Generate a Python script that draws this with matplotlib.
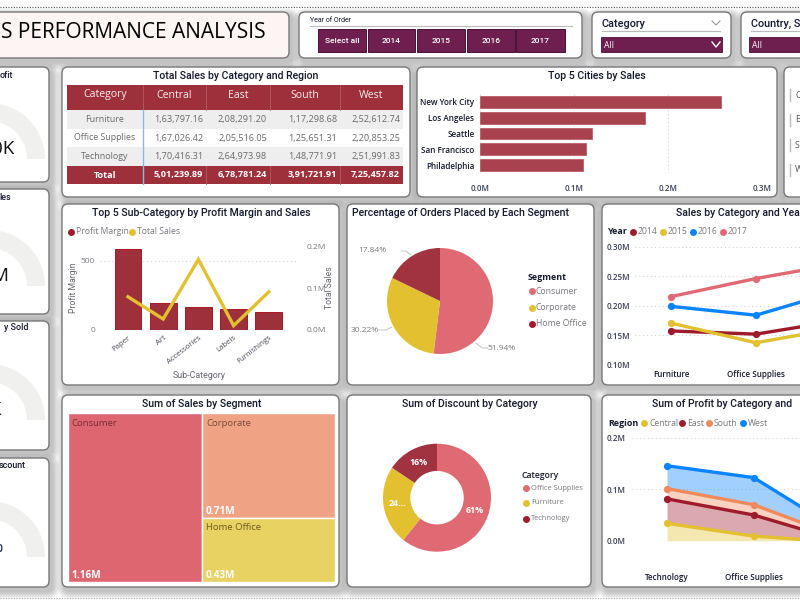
import numpy as np
import matplotlib
matplotlib.use('Agg')
import matplotlib.pyplot as plt
from matplotlib.patches import FancyBboxPatch, Rectangle, Wedge
from matplotlib.transforms import ScaledTranslation

# Data
table_regions = ['Central', 'East', 'South', 'West']
table_categories = ['Furniture', 'Office Supplies', 'Technology']
table_rows = [
    ['1,63,797.16', '2,08,291.20', '1,17,298.68', '2,52,612.74'],
    ['1,67,026.42', '2,05,516.05', '1,25,651.31', '2,20,853.25'],
    ['1,70,416.31', '2,64,973.98', '1,48,771.91', '2,51,991.83'],
]
table_total = ['5,01,239.89', '6,78,781.24', '3,91,721.91', '7,25,457.82']

cities = ['New York City', 'Los Angeles', 'Seattle', 'San Francisco', 'Philadelphia']
city_sales = [0.2564, 0.1759, 0.1195, 0.1127, 0.1091]

sub_categories = ['Paper', 'Art', 'Accessories', 'Labels', 'Furnishings']
profit_margin = [584, 197, 168, 154, 128]
sub_sales = [0.080, 0.0265, 0.170, 0.0105, 0.092]

segments = ['Consumer', 'Corporate', 'Home Office']
segment_orders = [51.94, 30.22, 17.84]
segment_sales = [1.16, 0.71, 0.43]

discount_categories = ['Office Supplies', 'Furniture', 'Technology']
discount_sums = [947.8, 368.9, 244.4]
discount_labels = ['61%', '24...', '16%']

line_categories = ['Furniture', 'Office Supplies']
sales_2014 = [0.1572, 0.1518, 0.1753]
sales_2015 = [0.1705, 0.1372, 0.1628]
sales_2016 = [0.1989, 0.1839, 0.2264]
sales_2017 = [0.2154, 0.2461, 0.2717]

area_categories = ['Technology', 'Office Supplies']
profit_central = [0.0337, 0.0089, -0.0029]
profit_east = [0.0475, 0.0410, 0.0030]
profit_south = [0.0200, 0.0200, 0.0068]
profit_west = [0.0443, 0.0526, 0.0115]

years = ['Select all', '2014', '2015', '2016', '2017']

# Colours
RED = '#9e303c'
PINK = '#e06a73'
YELLOW = '#e3c030'
DARKRED = '#a0333f'
PLUM = '#6e1f4f'
DOTRED = '#9e1b2b'
BLUE = '#0a84ff'
ORANGE = '#f08a5d'
TXT = '#14182c'
GREY = '#77777f'
TITLE_FONT = 'Roboto'
BODY_FONT = 'Open Sans'

W, H = 800, 600
fig = plt.figure(figsize=(8, 6), dpi=100, facecolor='white')


def px_axes(x0, y0, x1, y1, zorder=3):
    # axes placed with picture pixels, y going down
    ax = fig.add_axes([x0 / W, 1 - y1 / H, (x1 - x0) / W, (y1 - y0) / H], zorder=zorder)
    ax.patch.set_alpha(0)
    return ax


back = px_axes(0, 0, W, H, zorder=0)
back.set_xlim(0, W)
back.set_ylim(H, 0)
back.axis('off')
front = px_axes(0, 0, W, H, zorder=10)
front.set_xlim(0, W)
front.set_ylim(H, 0)
front.axis('off')


def card(x0, y0, x1, y1, fill='white'):
    for i in range(7, 0, -1):
        back.add_patch(FancyBboxPatch((x0 + 3, y0 + 4), x1 - x0, y1 - y0,
                                      boxstyle=f'round,pad={i * 1.1},rounding_size={5 + i}',
                                      fc='#707070', ec='none', alpha=0.07, clip_on=True))
    back.add_patch(FancyBboxPatch((x0, y0), x1 - x0, y1 - y0,
                                  boxstyle='round,pad=0,rounding_size=6',
                                  fc=fill, ec='#77777a', lw=1.0, zorder=2))


def title(x, y, s, ha='center'):
    front.text(x, y, s, ha=ha, va='center', fontsize=7.6, color=TXT,
               family=TITLE_FONT, fontweight='medium')


def label(x, y, s, size=6.2, color=GREY, ha='left', weight='normal', font=BODY_FONT, **kw):
    front.text(x, y, s, ha=ha, va='center', fontsize=size, color=color,
               family=font, fontweight=weight, **kw)


def dot(x, y, color, size=25):
    front.scatter([x], [y], s=size, color=color, linewidths=0, zorder=5)


def dotted_grid(ax, axis='y'):
    ax.grid(True, axis=axis, linestyle=(0, (1, 3)), color='#cfcfcf', lw=0.7)
    ax.set_axisbelow(True)
    for s in ax.spines.values():
        s.set_visible(False)
    ax.tick_params(length=0)


# Background dotted rules
back.plot([0, W], [7, 7], color='#555555', lw=0.8, ls=(0, (1, 1.4)))
back.plot([0, W], [598, 598], color='#aaaaaa', lw=0.8, ls=(0, (1, 1.4)))

# Cards
card(-20, 12, 289, 58, fill='#fdf5f3')
card(299, 12, 582, 58)
card(592, 12, 731, 58)
card(741, 12, 830, 58)
for y0, y1 in [(67, 182), (189, 314), (321, 450), (458, 587)]:
    card(-20, y0, 49, y1)
card(62, 67, 410, 197)
card(417, 67, 777, 197)
card(784, 67, 830, 197)
card(62, 204, 339, 385)
card(347, 204, 594, 385)
card(602, 204, 830, 385)
card(62, 395, 339, 587)
card(347, 395, 591, 587)
card(602, 395, 830, 587)

# Header, the picture starts inside the word SALES
front.text(266, 32, 'S PERFORMANCE ANALYSIS', ha='right', va='center', fontsize=15,
           color='black', family=BODY_FONT, fontweight=500)

# Year slicer
label(310, 21, 'Year of Order', size=5, color=TXT, font=TITLE_FONT)
front.plot([310, 572], [25.5, 25.5], color='#bbbbbb', lw=0.8)
btn_edges = [(318, 366), (368, 415), (417, 465), (467, 515), (516, 565)]
for (x0, x1), yr in zip(btn_edges, years):
    front.add_patch(Rectangle((x0, 29), x1 - x0, 23, fc=PLUM, ec='#4a1236', lw=0.7))
    label((x0 + x1) / 2, 41, yr, size=6, color='white', ha='center', font=TITLE_FONT, weight='medium')

# Dropdown slicers
for x, s, x0, x1 in [(602, 'Category', 601, 722), (751, 'Country, S', 749, 830)]:
    label(x, 24, s, size=7.8, color=TXT, font=TITLE_FONT, weight='medium')
    front.plot([x, x1 - 2], [31, 31], color='#bbbbbb', lw=0.8)
    front.add_patch(Rectangle((x0, 37), x1 - x0, 15, fc=PLUM, ec='#4a1236', lw=0.6))
    label(x0 + 3, 45, 'All', size=6.2, color='white')
front.plot([712, 716, 720], [42, 47, 42], color='white', lw=1)
front.plot([712, 716, 720], [21, 25, 21], color='#999999', lw=0.8)

# Gauges on the left, only their right end shows
gauge_titles = ['ofit', 'les', 'y Sold', 'scount']
gauge_values = ['0K', 'M', 'K', '%']
gauge_colors = ['#111111', '#111111', '#12264f', '#12264f']
gauge_base = [159, 286, 420, 557]
gauge_title_y = [75, 197, 328, 466]
gauge_title_end = [13, 11, 28, 26]
gauge_text_end = [14, 8, 1, 2]
for i in range(4):
    back.add_patch(Wedge((-11, gauge_base[i]), 56, 180, 360, width=18, fc='#f0f0ef', ec='none', zorder=3))
    label(gauge_title_end[i], gauge_title_y[i], gauge_titles[i], size=6.4, color=TXT,
          ha='right', font=TITLE_FONT, weight='medium')
    label(gauge_text_end[i], gauge_base[i] - 10, gauge_values[i], size=13.5, color=gauge_colors[i], ha='right')

# Table
title(236, 76, 'Total Sales by Category and Region')
col_edges = [67, 143, 206, 270, 340, 403]
row_edges = [110, 129, 147, 166]
front.add_patch(Rectangle((67, 85), 336, 25, fc=RED, ec='none'))
front.add_patch(Rectangle((67, 166), 336, 18, fc=RED, ec='none'))
for i in [0, 2]:
    front.add_patch(Rectangle((67, row_edges[i]), 336, row_edges[i + 1] - row_edges[i], fc='#eeeeee', ec='none', zorder=0.5))
for x in col_edges[1:-1]:
    front.plot([x, x], [85, 110], color='#b55a64', lw=0.6)
    front.plot([x, x], [166, 184], color='#b55a64', lw=0.6)
front.plot([143, 143], [110, 184], color='#8fb6e6', lw=1.0)
label(105, 95, 'Category', size=7.6, color='#f9eeee', ha='center', weight=500)
for j, reg in enumerate(table_regions):
    label((col_edges[j + 1] + col_edges[j + 2]) / 2, 95, reg, size=7.6, color='#f9eeee', ha='center', weight=500)
for i, cat in enumerate(table_categories):
    yc = (row_edges[i] + row_edges[i + 1]) / 2
    label(105, yc, cat, size=6.4, color='#6a6a6a', ha='center')
    for j in range(4):
        label(col_edges[j + 2] - 3, yc, table_rows[i][j], size=6.6, color='#6a6a6a', ha='right')
label(105, 175, 'Total', size=6.6, color='white', ha='center', weight='bold')
for j in range(4):
    label(col_edges[j + 2] - 3, 175, table_total[j], size=6.6, color='white', ha='right', weight='bold')

# Top cities
title(597, 76, 'Top 5 Cities by Sales')
ax = px_axes(480, 94, 762, 173)
ax.barh(range(5), city_sales, height=0.75, color='#a8424f', edgecolor='#b8505c', lw=0.5)
ax.set_xlim(0, 0.3)
ax.set_ylim(4.5, -0.5)
ax.set_yticks(range(5))
ax.set_yticklabels(cities, fontsize=5.9, color=TXT, family=BODY_FONT, fontweight=600)
ax.set_xticks([0, 0.1, 0.2, 0.3])
ax.set_xticklabels(['0.0M', '0.1M', '0.2M', '0.3M'], fontsize=5.8, color='#3a3f55', family=BODY_FONT, fontweight=600)
dotted_grid(ax, 'x')
ax.tick_params(axis='x', pad=8)
ax.tick_params(axis='y', pad=4)

# Right hand slicer, cut by the picture edge
for y, s in zip([95, 120, 145, 170], ['C', 'E', 'S', 'W']):
    front.plot([790, 790], [y - 6, y + 6], color='#bbbbbb', lw=1)
    label(795, y, s, size=6.4, color='#555555')

# Combo chart
title(201, 213, 'Top 5 Sub-Category by Profit Margin and Sales')
dot(71, 232, DOTRED)
label(76, 232, 'Profit Margin')
dot(132, 232, YELLOW)
label(137, 232, 'Total Sales')
ax = px_axes(100, 244, 297, 330)
ax.bar(range(5), profit_margin, width=0.76, color=RED, edgecolor='#a81822', lw=0.7)
ax.set_xlim(-0.795, 4.8)
ax.set_ylim(0, 620)
ax.set_yticks([0, 500])
ax.set_yticklabels(['0', '500'], fontsize=6, color=GREY, family=BODY_FONT)
ax.set_xticks(range(5))
ax.set_xticklabels(sub_categories, fontsize=5.6, color='#4a4a5a', family=BODY_FONT,
                   rotation=38, ha='right', rotation_mode='anchor')
nudge = ScaledTranslation(-3 / 100, 0, fig.dpi_scale_trans)
for t in ax.get_xticklabels():
    t.set_transform(t.get_transform() + nudge)
dotted_grid(ax, 'y')
ax.tick_params(axis='x', pad=3)
ax2 = ax.twinx()
ax2.plot(range(5), sub_sales, color=YELLOW, lw=2.4, solid_joinstyle='miter')
ax2.set_ylim(0, 0.2072)
ax2.set_yticks([0, 0.1, 0.2])
ax2.set_yticklabels(['0.0M', '0.1M', '0.2M'], fontsize=6, color=GREY, family=BODY_FONT)
ax2.tick_params(length=0, pad=7)
for s in ax2.spines.values():
    s.set_visible(False)
ax2.patch.set_alpha(0)
label(73, 288, 'Profit Margin', size=6.2, color='#666670', ha='center', rotation=90, font=TITLE_FONT)
label(330, 288, 'Total Sales', size=6.2, color='#666670', ha='center', rotation=90, font=TITLE_FONT)
label(199, 376, 'Sub-Category', size=6.4, color='#666670', ha='center', font=TITLE_FONT)

# Pie
title(461, 213, 'Percentage of Orders Placed by Each Segment')
ax = px_axes(387, 248, 493, 354)
ax.pie(segment_orders, colors=[PINK, YELLOW, DARKRED], startangle=90, counterclock=False, radius=1)
ax.set_xlim(-1, 1)
ax.set_ylim(-1, 1)
label(372, 251, '17.84%', size=6, ha='center')
label(365, 330, '30.22%', size=6, ha='center')
label(502, 348, '51.94%', size=6, ha='center')
front.plot([401, 406, 411], [251, 251, 255], color='#bbbbbb', lw=0.6)
front.plot([379, 386, 392], [330, 330, 327], color='#bbbbbb', lw=0.6)
front.plot([476, 482, 488], [343, 348, 348], color='#bbbbbb', lw=0.6)
label(528, 277, 'Segment', size=6.4, color=TXT, weight='bold')
for y, s, c in zip([291, 308, 324], segments, [PINK, YELLOW, DOTRED]):
    dot(531.5, y, c)
    label(536, y, s, size=6.2)

# Sales lines
title(676, 213, 'Sales by Category and Yea', ha='left')
label(608, 232, 'Year', size=6.4, color=TXT, weight='bold')
for x, s, c in zip([633, 663, 693, 723], ['2014', '2015', '2016', '2017'], [DOTRED, YELLOW, BLUE, PINK]):
    dot(x, 232, c)
    label(x + 5, 232, s)
ax = px_axes(635, 246.7, 860, 364.7)
xs = np.arange(3)
for vals, c in zip([sales_2014, sales_2015, sales_2016, sales_2017], [DOTRED, YELLOW, BLUE, PINK]):
    ax.plot(xs, vals, color=c, lw=2.4, marker='o', ms=4.2)
ax.set_xlim((635 - 671) / 85, (860 - 671) / 85)
ax.set_ylim(0.10, 0.30)
ax.set_yticks([0.10, 0.15, 0.20, 0.25, 0.30])
ax.set_yticklabels(['0.10M', '0.15M', '0.20M', '0.25M', '0.30M'], fontsize=5.8, color='#3a3f55', family=BODY_FONT, fontweight=600)
ax.set_xticks(xs[:2])
ax.set_xticklabels(line_categories, fontsize=5.8, color=TXT, family=BODY_FONT, fontweight=600)
dotted_grid(ax, 'y')
ax.tick_params(axis='y', pad=3.5)
ax.tick_params(axis='x', pad=3.5)

# Treemap, sizes come from the segment sales
title(201.5, 404, 'Sum of Sales by Segment')
ax = px_axes(67.5, 413, 335, 582)
total = sum(segment_sales)
right = segment_sales[1] + segment_sales[2]
ax.bar(0, 1, width=segment_sales[0], align='edge', color='#dd6670', edgecolor='white', lw=1)
ax.bar(segment_sales[0], segment_sales[1] / right, width=right, bottom=segment_sales[2] / right,
       align='edge', color='#f0a384', edgecolor='white', lw=1)
ax.bar(segment_sales[0], segment_sales[2] / right, width=right, align='edge', color='#e7d262',
       edgecolor='white', lw=1)
ax.set_xlim(0, total)
ax.set_ylim(0, 1)
ax.axis('off')
label(71, 423.5, segments[0], size=6.8, color='#7a2a35')
label(206, 423.5, segments[1], size=6.8, color='#7a4a38')
label(206, 528, segments[2], size=6.8, color='#6e5a20')
label(71, 575, '1.16M', size=7.2, color='white', weight='bold')
label(206, 511, '0.71M', size=7.2, color='white', weight='bold')
label(206, 575, '0.43M', size=7.2, color='white', weight='bold')

# Donut
title(470, 404, 'Sum of Discount by Category')
ax = px_axes(383, 443.7, 491, 551.7)
wedges, _, pct = ax.pie(discount_sums, colors=[PINK, YELLOW, DARKRED], startangle=90, counterclock=False,
                        radius=1, wedgeprops=dict(width=0.505), autopct='%d', pctdistance=0.74,
                        textprops=dict(color='white', fontsize=6.4, fontweight='bold', family=BODY_FONT))
for t, s in zip(pct, discount_labels):
    t.set_text(s)
ax.set_xlim(-1, 1)
ax.set_ylim(-1, 1)
label(522, 475, 'Category', size=6.2, color=TXT, weight=600)
for y, s, c in zip([488, 503, 519], discount_categories, [PINK, YELLOW, DOTRED]):
    dot(526, y, c)
    label(531, y, s, size=5.4)

# Stacked profit area
title(652, 404, 'Sum of Profit by Category and', ha='left')
label(608, 423, 'Region', size=6.4, color=TXT, weight='bold')
for x, s, c in zip([644, 682, 709, 743], table_regions, [YELLOW, DOTRED, ORANGE, BLUE]):
    dot(x, 423, c)
    label(x + 5, 423, s)
ax = px_axes(632, 437.7, 860, 540.7)
xs = np.arange(3)
lower = np.zeros(3)
for vals, c in zip([profit_central, profit_east, profit_south, profit_west], [YELLOW, DOTRED, ORANGE, BLUE]):
    upper = lower + np.array(vals)
    ax.fill_between(xs, lower, upper, color=c, alpha=0.38, lw=0)
    ax.plot(xs, upper, color=c, lw=2.4, marker='o', ms=4.2)
    lower = upper
ax.set_xlim((632 - 667) / 86.7, (860 - 667) / 86.7)
ax.set_ylim(0, 0.2)
ax.set_yticks([0, 0.1, 0.2])
ax.set_yticklabels(['0.0M', '0.1M', '0.2M'], fontsize=5.8, color='#3a3f55', family=BODY_FONT, fontweight=600)
ax.set_xticks(xs[:2])
ax.set_xticklabels(area_categories, fontsize=5.8, color=TXT, family=BODY_FONT, fontweight=600)
dotted_grid(ax, 'y')
ax.tick_params(axis='y', pad=4.3)
ax.tick_params(axis='x', pad=23)

fig.savefig('out.png', dpi=100)
